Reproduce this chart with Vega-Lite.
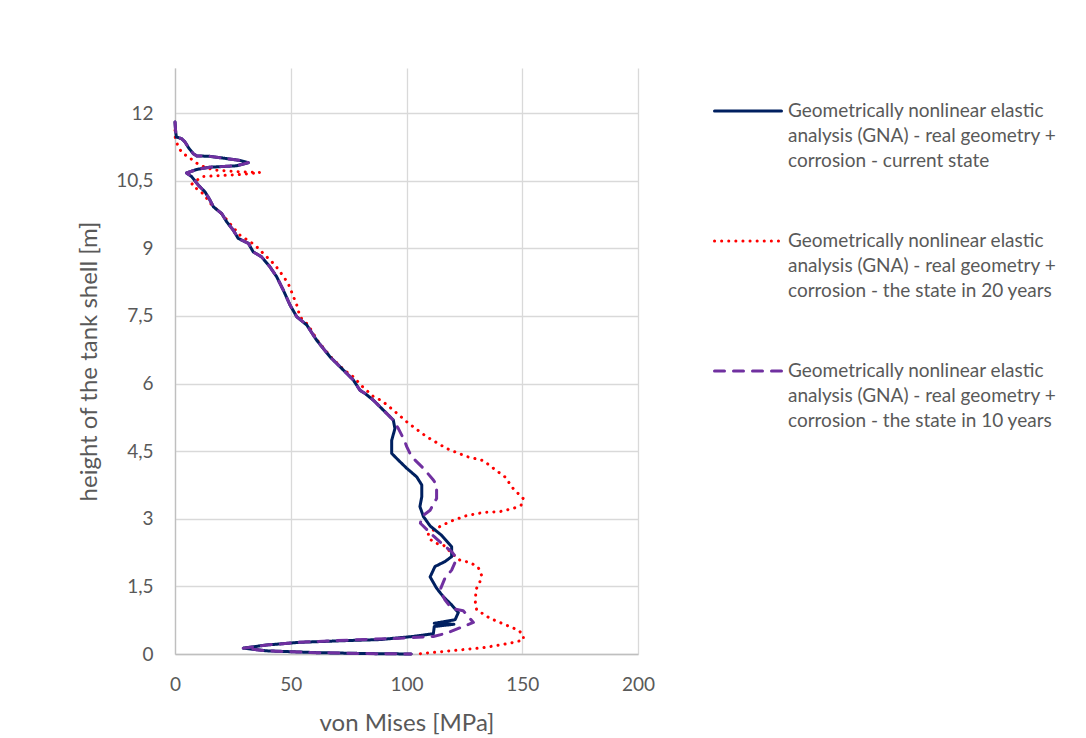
{
  "$schema": "https://vega.github.io/schema/vega-lite/v6.json",
  "autosize": "none",
  "width": 463,
  "height": 586,
  "padding": {"left": 175, "top": 68, "right": 448, "bottom": 84},
  "background": "white",
  "config": {
    "font": "Lato",
    "view": {"stroke": null},
    "legend": {
      "orient": "none",
      "legendX": 538,
      "legendY": 8,
      "title": null,
      "symbolType": "stroke",
      "symbolSize": 4489,
      "symbolStrokeWidth": 3,
      "labelFont": "Lato",
      "labelFontSize": 19,
      "labelColor": "#595959",
      "labelLimit": 400,
      "labelOffset": 5,
      "rowPadding": 35
    }
  },
  "data": {
    "values": [
      {"series":"20y","idx":0,"mpa":0,"height":11.62},
      {"series":"20y","idx":1,"mpa":0,"height":11.49},
      {"series":"20y","idx":2,"mpa":0.4,"height":11.40},
      {"series":"20y","idx":3,"mpa":1.4,"height":11.25},
      {"series":"20y","idx":4,"mpa":3.3,"height":11.10},
      {"series":"20y","idx":5,"mpa":5.7,"height":11.04},
      {"series":"20y","idx":6,"mpa":7.9,"height":10.94},
      {"series":"20y","idx":7,"mpa":10.8,"height":10.84},
      {"series":"20y","idx":8,"mpa":16.6,"height":10.74},
      {"series":"20y","idx":9,"mpa":23.8,"height":10.71},
      {"series":"20y","idx":10,"mpa":31.0,"height":10.69},
      {"series":"20y","idx":11,"mpa":36.7,"height":10.68},
      {"series":"20y","idx":12,"mpa":26.6,"height":10.63},
      {"series":"20y","idx":13,"mpa":18.0,"height":10.61},
      {"series":"20y","idx":14,"mpa":11.5,"height":10.59},
      {"series":"20y","idx":15,"mpa":7.2,"height":10.42},
      {"series":"20y","idx":16,"mpa":10.1,"height":10.29},
      {"series":"20y","idx":17,"mpa":12.2,"height":10.21},
      {"series":"20y","idx":18,"mpa":15.9,"height":9.96},
      {"series":"20y","idx":19,"mpa":20.9,"height":9.73},
      {"series":"20y","idx":20,"mpa":23.0,"height":9.59},
      {"series":"20y","idx":21,"mpa":28.1,"height":9.29},
      {"series":"20y","idx":22,"mpa":34.6,"height":9.07},
      {"series":"20y","idx":23,"mpa":36.7,"height":8.96},
      {"series":"20y","idx":24,"mpa":41.0,"height":8.74},
      {"series":"20y","idx":25,"mpa":43.2,"height":8.63},
      {"series":"20y","idx":26,"mpa":46.5,"height":8.40},
      {"series":"20y","idx":27,"mpa":48.9,"height":8.22},
      {"series":"20y","idx":28,"mpa":51.0,"height":7.95},
      {"series":"20y","idx":29,"mpa":52.6,"height":7.74},
      {"series":"20y","idx":30,"mpa":54.0,"height":7.48},
      {"series":"20y","idx":31,"mpa":57.5,"height":7.30},
      {"series":"20y","idx":32,"mpa":61.5,"height":6.96},
      {"series":"20y","idx":33,"mpa":67.3,"height":6.59},
      {"series":"20y","idx":34,"mpa":73.0,"height":6.30},
      {"series":"20y","idx":35,"mpa":77.0,"height":6.15},
      {"series":"20y","idx":36,"mpa":81.0,"height":5.93},
      {"series":"20y","idx":37,"mpa":85.7,"height":5.71},
      {"series":"20y","idx":38,"mpa":89.3,"height":5.62},
      {"series":"20y","idx":39,"mpa":94.3,"height":5.41},
      {"series":"20y","idx":40,"mpa":100.8,"height":5.12},
      {"series":"20y","idx":41,"mpa":108.7,"height":4.82},
      {"series":"20y","idx":42,"mpa":117.3,"height":4.56},
      {"series":"20y","idx":43,"mpa":126.0,"height":4.38},
      {"series":"20y","idx":44,"mpa":133.2,"height":4.29},
      {"series":"20y","idx":45,"mpa":137.5,"height":4.12},
      {"series":"20y","idx":46,"mpa":142.5,"height":3.93},
      {"series":"20y","idx":47,"mpa":146.1,"height":3.67},
      {"series":"20y","idx":48,"mpa":150.4,"height":3.45},
      {"series":"20y","idx":49,"mpa":149.5,"height":3.30},
      {"series":"20y","idx":50,"mpa":146.1,"height":3.23},
      {"series":"20y","idx":51,"mpa":140.4,"height":3.16},
      {"series":"20y","idx":52,"mpa":133.2,"height":3.14},
      {"series":"20y","idx":53,"mpa":126.0,"height":3.07},
      {"series":"20y","idx":54,"mpa":118.8,"height":2.94},
      {"series":"20y","idx":55,"mpa":113.0,"height":2.79},
      {"series":"20y","idx":56,"mpa":109.4,"height":2.68},
      {"series":"20y","idx":57,"mpa":109.6,"height":2.57},
      {"series":"20y","idx":58,"mpa":112.3,"height":2.46},
      {"series":"20y","idx":59,"mpa":115.9,"height":2.42},
      {"series":"20y","idx":60,"mpa":118.1,"height":2.31},
      {"series":"20y","idx":61,"mpa":120.2,"height":2.20},
      {"series":"20y","idx":62,"mpa":123.1,"height":2.08},
      {"series":"20y","idx":63,"mpa":127.5,"height":2.03},
      {"series":"20y","idx":64,"mpa":131.0,"height":1.92},
      {"series":"20y","idx":65,"mpa":132.4,"height":1.75},
      {"series":"20y","idx":66,"mpa":131.7,"height":1.60},
      {"series":"20y","idx":67,"mpa":130.3,"height":1.46},
      {"series":"20y","idx":68,"mpa":129.6,"height":1.20},
      {"series":"20y","idx":69,"mpa":130.3,"height":0.98},
      {"series":"20y","idx":70,"mpa":136.1,"height":0.79},
      {"series":"20y","idx":71,"mpa":144.0,"height":0.62},
      {"series":"20y","idx":72,"mpa":148.3,"height":0.53},
      {"series":"20y","idx":73,"mpa":150.5,"height":0.42},
      {"series":"20y","idx":74,"mpa":150.5,"height":0.31},
      {"series":"20y","idx":75,"mpa":144.7,"height":0.24},
      {"series":"20y","idx":76,"mpa":133.2,"height":0.14},
      {"series":"20y","idx":77,"mpa":118.8,"height":0.07},
      {"series":"20y","idx":78,"mpa":104.4,"height":0},

      {"series":"current","idx":0,"mpa":0,"height":11.80},
      {"series":"current","idx":1,"mpa":0.3,"height":11.58},
      {"series":"current","idx":2,"mpa":0.6,"height":11.47},
      {"series":"current","idx":3,"mpa":2.9,"height":11.43},
      {"series":"current","idx":4,"mpa":4.3,"height":11.36},
      {"series":"current","idx":5,"mpa":6.0,"height":11.22},
      {"series":"current","idx":6,"mpa":7.9,"height":11.10},
      {"series":"current","idx":7,"mpa":9.4,"height":11.05},
      {"series":"current","idx":8,"mpa":15.1,"height":11.04},
      {"series":"current","idx":9,"mpa":22.3,"height":10.99},
      {"series":"current","idx":10,"mpa":28.0,"height":10.95},
      {"series":"current","idx":11,"mpa":31.7,"height":10.90},
      {"series":"current","idx":12,"mpa":26.6,"height":10.83},
      {"series":"current","idx":13,"mpa":15.1,"height":10.80},
      {"series":"current","idx":14,"mpa":9.4,"height":10.75},
      {"series":"current","idx":15,"mpa":5.0,"height":10.67},
      {"series":"current","idx":16,"mpa":7.2,"height":10.59},
      {"series":"current","idx":17,"mpa":10.1,"height":10.40},
      {"series":"current","idx":18,"mpa":13.0,"height":10.25},
      {"series":"current","idx":19,"mpa":15.1,"height":10.07},
      {"series":"current","idx":20,"mpa":16.6,"height":9.92},
      {"series":"current","idx":21,"mpa":20.2,"height":9.77},
      {"series":"current","idx":22,"mpa":22.3,"height":9.59},
      {"series":"current","idx":23,"mpa":25.2,"height":9.40},
      {"series":"current","idx":24,"mpa":27.3,"height":9.22},
      {"series":"current","idx":25,"mpa":31.7,"height":9.11},
      {"series":"current","idx":26,"mpa":33.8,"height":8.92},
      {"series":"current","idx":27,"mpa":37.4,"height":8.81},
      {"series":"current","idx":28,"mpa":41.0,"height":8.59},
      {"series":"current","idx":29,"mpa":43.9,"height":8.37},
      {"series":"current","idx":30,"mpa":46.8,"height":8.07},
      {"series":"current","idx":31,"mpa":49.7,"height":7.74},
      {"series":"current","idx":32,"mpa":52.6,"height":7.48},
      {"series":"current","idx":33,"mpa":56.9,"height":7.30},
      {"series":"current","idx":34,"mpa":61.2,"height":6.96},
      {"series":"current","idx":35,"mpa":67.0,"height":6.59},
      {"series":"current","idx":36,"mpa":72.7,"height":6.30},
      {"series":"current","idx":37,"mpa":77.0,"height":6.08},
      {"series":"current","idx":38,"mpa":79.9,"height":5.85},
      {"series":"current","idx":39,"mpa":82.1,"height":5.78},
      {"series":"current","idx":40,"mpa":85.7,"height":5.63},
      {"series":"current","idx":41,"mpa":90.0,"height":5.41},
      {"series":"current","idx":42,"mpa":94.3,"height":5.19},
      {"series":"current","idx":43,"mpa":95.0,"height":5.00},
      {"series":"current","idx":44,"mpa":93.6,"height":4.74},
      {"series":"current","idx":45,"mpa":93.6,"height":4.45},
      {"series":"current","idx":46,"mpa":96.5,"height":4.30},
      {"series":"current","idx":47,"mpa":100.1,"height":4.12},
      {"series":"current","idx":48,"mpa":104.4,"height":3.93},
      {"series":"current","idx":49,"mpa":106.6,"height":3.75},
      {"series":"current","idx":50,"mpa":106.6,"height":3.49},
      {"series":"current","idx":51,"mpa":105.8,"height":3.27},
      {"series":"current","idx":52,"mpa":107.3,"height":3.05},
      {"series":"current","idx":53,"mpa":110.2,"height":2.84},
      {"series":"current","idx":54,"mpa":115.0,"height":2.64},
      {"series":"current","idx":55,"mpa":119.5,"height":2.38},
      {"series":"current","idx":56,"mpa":119.5,"height":2.16},
      {"series":"current","idx":57,"mpa":116.6,"height":2.05},
      {"series":"current","idx":58,"mpa":112.3,"height":1.94},
      {"series":"current","idx":59,"mpa":110.2,"height":1.71},
      {"series":"current","idx":60,"mpa":113.0,"height":1.46},
      {"series":"current","idx":61,"mpa":115.9,"height":1.27},
      {"series":"current","idx":62,"mpa":119.5,"height":1.09},
      {"series":"current","idx":63,"mpa":122.4,"height":0.92},
      {"series":"current","idx":64,"mpa":121.0,"height":0.76},
      {"series":"current","idx":65,"mpa":112.0,"height":0.68},
      {"series":"current","idx":66,"mpa":120.5,"height":0.66},
      {"series":"current","idx":67,"mpa":112.0,"height":0.61},
      {"series":"current","idx":68,"mpa":111.6,"height":0.45},
      {"series":"current","idx":69,"mpa":103.0,"height":0.39},
      {"series":"current","idx":70,"mpa":88.6,"height":0.32},
      {"series":"current","idx":71,"mpa":75.6,"height":0.30},
      {"series":"current","idx":72,"mpa":54.0,"height":0.26},
      {"series":"current","idx":73,"mpa":39.6,"height":0.20},
      {"series":"current","idx":74,"mpa":29.5,"height":0.13},
      {"series":"current","idx":75,"mpa":39.6,"height":0.07},
      {"series":"current","idx":76,"mpa":61.2,"height":0.03},
      {"series":"current","idx":77,"mpa":82.8,"height":0.01},
      {"series":"current","idx":78,"mpa":102.0,"height":0},

      {"series":"10y","idx":0,"mpa":0,"height":11.80},
      {"series":"10y","idx":1,"mpa":0.3,"height":11.58},
      {"series":"10y","idx":2,"mpa":0.6,"height":11.47},
      {"series":"10y","idx":3,"mpa":2.9,"height":11.43},
      {"series":"10y","idx":4,"mpa":4.3,"height":11.36},
      {"series":"10y","idx":5,"mpa":6.0,"height":11.22},
      {"series":"10y","idx":6,"mpa":7.9,"height":11.10},
      {"series":"10y","idx":7,"mpa":9.4,"height":11.05},
      {"series":"10y","idx":8,"mpa":15.1,"height":11.04},
      {"series":"10y","idx":9,"mpa":22.3,"height":10.99},
      {"series":"10y","idx":10,"mpa":28.0,"height":10.95},
      {"series":"10y","idx":11,"mpa":31.7,"height":10.90},
      {"series":"10y","idx":12,"mpa":26.6,"height":10.83},
      {"series":"10y","idx":13,"mpa":15.1,"height":10.80},
      {"series":"10y","idx":14,"mpa":9.4,"height":10.75},
      {"series":"10y","idx":15,"mpa":5.0,"height":10.67},
      {"series":"10y","idx":16,"mpa":7.2,"height":10.59},
      {"series":"10y","idx":17,"mpa":10.1,"height":10.40},
      {"series":"10y","idx":18,"mpa":13.0,"height":10.25},
      {"series":"10y","idx":19,"mpa":15.1,"height":10.07},
      {"series":"10y","idx":20,"mpa":16.6,"height":9.92},
      {"series":"10y","idx":21,"mpa":20.2,"height":9.77},
      {"series":"10y","idx":22,"mpa":22.3,"height":9.59},
      {"series":"10y","idx":23,"mpa":25.2,"height":9.40},
      {"series":"10y","idx":24,"mpa":27.3,"height":9.22},
      {"series":"10y","idx":25,"mpa":31.7,"height":9.11},
      {"series":"10y","idx":26,"mpa":33.8,"height":8.92},
      {"series":"10y","idx":27,"mpa":37.4,"height":8.81},
      {"series":"10y","idx":28,"mpa":41.0,"height":8.59},
      {"series":"10y","idx":29,"mpa":43.9,"height":8.37},
      {"series":"10y","idx":30,"mpa":46.8,"height":8.07},
      {"series":"10y","idx":31,"mpa":49.7,"height":7.74},
      {"series":"10y","idx":32,"mpa":52.6,"height":7.48},
      {"series":"10y","idx":33,"mpa":56.9,"height":7.30},
      {"series":"10y","idx":34,"mpa":61.2,"height":6.96},
      {"series":"10y","idx":35,"mpa":67.0,"height":6.59},
      {"series":"10y","idx":36,"mpa":72.7,"height":6.30},
      {"series":"10y","idx":37,"mpa":77.0,"height":6.08},
      {"series":"10y","idx":38,"mpa":79.9,"height":5.85},
      {"series":"10y","idx":39,"mpa":82.1,"height":5.78},
      {"series":"10y","idx":40,"mpa":85.7,"height":5.63},
      {"series":"10y","idx":41,"mpa":90.0,"height":5.41},
      {"series":"10y","idx":42,"mpa":94.3,"height":5.19},
      {"series":"10y","idx":43,"mpa":96.5,"height":5.00},
      {"series":"10y","idx":44,"mpa":99.0,"height":4.75},
      {"series":"10y","idx":45,"mpa":100.1,"height":4.60},
      {"series":"10y","idx":46,"mpa":101.5,"height":4.45},
      {"series":"10y","idx":47,"mpa":103.7,"height":4.30},
      {"series":"10y","idx":48,"mpa":107.3,"height":4.12},
      {"series":"10y","idx":49,"mpa":111.6,"height":3.86},
      {"series":"10y","idx":50,"mpa":113.0,"height":3.75},
      {"series":"10y","idx":51,"mpa":113.0,"height":3.45},
      {"series":"10y","idx":52,"mpa":110.2,"height":3.19},
      {"series":"10y","idx":53,"mpa":106.6,"height":3.05},
      {"series":"10y","idx":54,"mpa":106.0,"height":2.90},
      {"series":"10y","idx":55,"mpa":111.6,"height":2.62},
      {"series":"10y","idx":56,"mpa":115.9,"height":2.42},
      {"series":"10y","idx":57,"mpa":119.5,"height":2.27},
      {"series":"10y","idx":58,"mpa":121.7,"height":2.12},
      {"series":"10y","idx":59,"mpa":119.5,"height":1.86},
      {"series":"10y","idx":60,"mpa":116.6,"height":1.68},
      {"series":"10y","idx":61,"mpa":114.5,"height":1.42},
      {"series":"10y","idx":62,"mpa":116.6,"height":1.20},
      {"series":"10y","idx":63,"mpa":119.5,"height":1.01},
      {"series":"10y","idx":64,"mpa":124.5,"height":0.96},
      {"series":"10y","idx":65,"mpa":128.9,"height":0.70},
      {"series":"10y","idx":66,"mpa":124.5,"height":0.61},
      {"series":"10y","idx":67,"mpa":117.3,"height":0.46},
      {"series":"10y","idx":68,"mpa":111.6,"height":0.39},
      {"series":"10y","idx":69,"mpa":97.2,"height":0.35},
      {"series":"10y","idx":70,"mpa":75.6,"height":0.31},
      {"series":"10y","idx":71,"mpa":54.0,"height":0.26},
      {"series":"10y","idx":72,"mpa":39.6,"height":0.20},
      {"series":"10y","idx":73,"mpa":29.5,"height":0.13},
      {"series":"10y","idx":74,"mpa":39.6,"height":0.07},
      {"series":"10y","idx":75,"mpa":61.2,"height":0.03},
      {"series":"10y","idx":76,"mpa":82.8,"height":0.01},
      {"series":"10y","idx":77,"mpa":102.0,"height":0}
    ]
  },
  "mark": {"type": "line", "strokeWidth": 3, "strokeCap": "round", "strokeJoin": "round"},
  "encoding": {
    "x": {
      "field": "mpa",
      "type": "quantitative",
      "scale": {"domain": [0, 200], "nice": false},
      "axis": {
        "values": [0, 50, 100, 150, 200],
        "format": "d",
        "labelFlush": false,
        "title": "von Mises [MPa]",
        "titleFont": "Lato",
        "titleFontSize": 24,
        "titleFontWeight": "normal",
        "titleColor": "#595959",
        "titlePadding": 17,
        "labelFont": "Lato",
        "labelFontSize": 19,
        "labelColor": "#595959",
        "labelPadding": 21,
        "ticks": false,
        "domainColor": "#bfbfbf",
        "domainWidth": 1.3,
        "gridColor": "#d9d9d9",
        "gridWidth": 1.3
      }
    },
    "y": {
      "field": "height",
      "type": "quantitative",
      "scale": {"domain": [0, 13], "nice": false},
      "axis": {
        "values": [0, 1.5, 3, 4.5, 6, 7.5, 9, 10.5, 12],
        "format": ".1~f",
        "labelExpr": "replace(datum.label, '.', ',')",
        "labelFlush": false,
        "title": "height of the tank shell [m]",
        "titleFont": "Lato",
        "titleFontSize": 24,
        "titleFontWeight": "normal",
        "titleColor": "#595959",
        "titlePadding": 14,
        "labelFont": "Lato",
        "labelFontSize": 19,
        "labelColor": "#595959",
        "labelPadding": 22,
        "ticks": false,
        "domainColor": "#bfbfbf",
        "domainWidth": 1.3,
        "gridColor": "#d9d9d9",
        "gridWidth": 1.3
      }
    },
    "order": {"field": "idx", "type": "quantitative"},
    "color": {
      "field": "series",
      "type": "nominal",
      "scale": {"domain": ["current", "20y", "10y"], "range": ["#002060", "#FF0000", "#7030A0"]},
      "legend": {
        "labelExpr": "datum.value == 'current' ? ['Geometrically nonlinear elastic', 'analysis (GNA) - real geometry +', 'corrosion - current state'] : datum.value == '20y' ? ['Geometrically nonlinear elastic', 'analysis (GNA) - real geometry +', 'corrosion - the state in 20 years'] : ['Geometrically nonlinear elastic', 'analysis (GNA) - real geometry +', 'corrosion - the state in 10 years']",
        "encoding": {
          "symbols": {"strokeCap": {"value": "round"}},
          "labels": {"lineHeight": {"value": 25}}
        }
      }
    },
    "strokeDash": {
      "field": "series",
      "type": "nominal",
      "scale": {"domain": ["current", "20y", "10y"], "range": [[1, 0], [0.1, 7], [10, 9]]},
      "legend": {
        "labelExpr": "datum.value == 'current' ? ['Geometrically nonlinear elastic', 'analysis (GNA) - real geometry +', 'corrosion - current state'] : datum.value == '20y' ? ['Geometrically nonlinear elastic', 'analysis (GNA) - real geometry +', 'corrosion - the state in 20 years'] : ['Geometrically nonlinear elastic', 'analysis (GNA) - real geometry +', 'corrosion - the state in 10 years']",
        "encoding": {
          "symbols": {"strokeCap": {"value": "round"}},
          "labels": {"lineHeight": {"value": 25}}
        }
      }
    }
  }
}
